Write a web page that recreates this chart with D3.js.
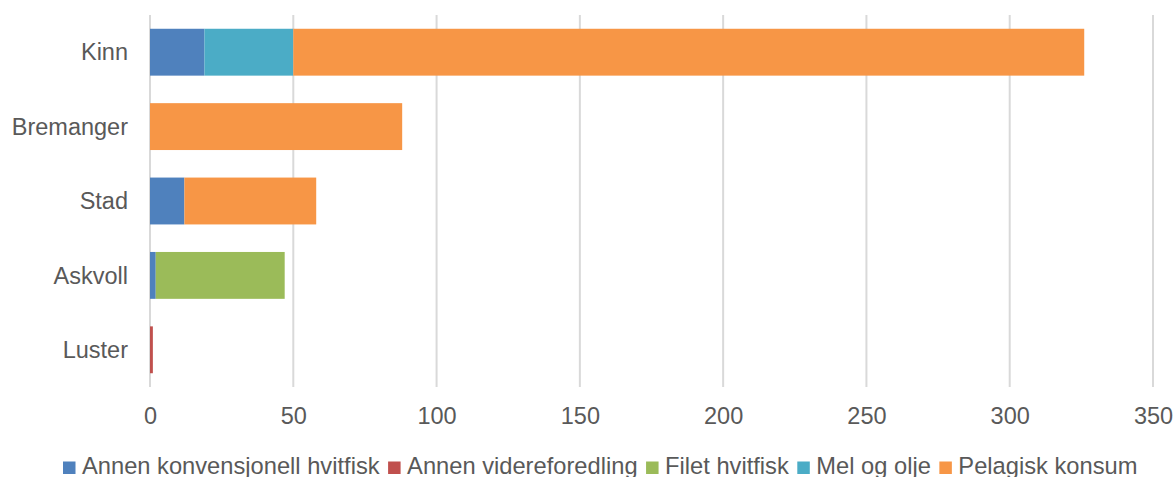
<!DOCTYPE html>
<html>
<head>
<meta charset="utf-8">
<script src="https://cdn.jsdelivr.net/npm/d3@7"></script>
<style>
  html, body { margin: 0; padding: 0; background: #fff; }
  svg text { font-family: "Liberation Sans", Arial, sans-serif; fill: #595959; }
</style>
</head>
<body>
<svg id="chart" width="1176" height="477"></svg>
<script>
// Municipalities (top to bottom)
const categories = ["Kinn", "Bremanger", "Stad", "Askvoll", "Luster"];

// Series values per municipality
const annenKonvensjonell = [19, 0, 12, 2, 0];
const annenVidereforedling = [0, 0, 0, 0, 1];
const filetHvitfisk = [0, 0, 0, 45, 0];
const melOgOlje = [31, 0, 0, 0, 0];
const pelagiskKonsum = [276, 88, 46, 0, 0];

const seriesNames = ["Annen konvensjonell hvitfisk", "Annen videreforedling", "Filet hvitfisk", "Mel og olje", "Pelagisk konsum"];
const seriesValues = [annenKonvensjonell, annenVidereforedling, filetHvitfisk, melOgOlje, pelagiskKonsum];
const seriesColors = ["#4F81BD", "#C0504D", "#9BBB59", "#4BACC6", "#F79646"];

const xTicks = [0, 50, 100, 150, 200, 250, 300, 350];

const svg = d3.select("#chart");

const x = d3.scaleLinear().domain([0, 350]).range([150, 1153]);
const y = d3.scaleBand().domain(categories).range([15, 387]).paddingInner(0.37).paddingOuter(0.185);

// Vertical gridlines
svg.append("g").selectAll("line").data(xTicks).join("line")
  .attr("x1", d => x(d)).attr("x2", d => x(d))
  .attr("y1", 15).attr("y2", 387)
  .attr("stroke", "#D9D9D9").attr("stroke-width", 2);

// Stack the series
const rows = categories.map((c, i) => {
  const r = { cat: c };
  seriesNames.forEach((s, j) => r[s] = seriesValues[j][i]);
  return r;
});
const stacked = d3.stack().keys(seriesNames)(rows);

svg.append("g").selectAll("g").data(stacked).join("g")
  .attr("fill", (d, i) => seriesColors[i])
  .selectAll("rect").data(d => d.filter(p => p[1] - p[0] > 0)).join("rect")
  .attr("x", d => x(d[0]))
  .attr("width", d => x(d[1]) - x(d[0]))
  .attr("y", d => y(d.data.cat))
  .attr("height", y.bandwidth());

// X axis labels
const xAxis = d3.axisBottom(x).tickValues(xTicks).tickSize(0).tickPadding(0);
const gx = svg.append("g").attr("transform", "translate(0,407)").call(xAxis);
gx.select(".domain").remove();
gx.selectAll("text").attr("font-size", 23.5).attr("dy", "0.71em")
  .style("font-family", "'Liberation Sans', Arial, sans-serif").attr("fill", "#595959");

// Category labels
const yAxis = d3.axisLeft(y).tickSize(0).tickPadding(0);
const gy = svg.append("g").attr("transform", "translate(128,0)").call(yAxis);
gy.select(".domain").remove();
gy.selectAll("text").attr("font-size", 23.5).attr("dy", "0.35em")
  .style("font-family", "'Liberation Sans', Arial, sans-serif").attr("fill", "#595959");

// Legend
const legend = svg.append("g");
let lx = 63;
seriesNames.forEach((name, i) => {
  legend.append("rect").attr("x", lx).attr("y", 461.5).attr("width", 12.5).attr("height", 12.5)
    .attr("fill", seriesColors[i]);
  const t = legend.append("text").attr("x", lx + 19).attr("y", 474)
    .attr("font-size", 23.7).text(name);
  lx += 19 + t.node().getComputedTextLength() + 8.5;
});
</script>
</body>
</html>
